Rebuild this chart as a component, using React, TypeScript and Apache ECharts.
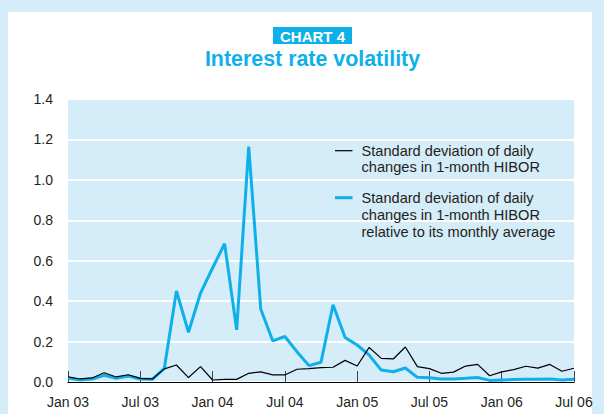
import React, { useEffect, useRef } from "react";
import * as echarts from "echarts";

const months = [
  "Jan 03","Feb 03","Mar 03","Apr 03","May 03","Jun 03","Jul 03","Aug 03","Sep 03","Oct 03","Nov 03","Dec 03",
  "Jan 04","Feb 04","Mar 04","Apr 04","May 04","Jun 04","Jul 04","Aug 04","Sep 04","Oct 04","Nov 04","Dec 04",
  "Jan 05","Feb 05","Mar 05","Apr 05","May 05","Jun 05","Jul 05","Aug 05","Sep 05","Oct 05","Nov 05","Dec 05",
  "Jan 06","Feb 06","Mar 06","Apr 06","May 06","Jun 06","Jul 06",
];

const stdDev = [
  0.025, 0.015, 0.02, 0.046, 0.025, 0.036, 0.018, 0.015, 0.065, 0.084, 0.022, 0.076,
  0.01, 0.013, 0.013, 0.043, 0.05, 0.035, 0.035, 0.063, 0.066, 0.071, 0.073, 0.107,
  0.079, 0.171, 0.117, 0.114, 0.173, 0.076, 0.066, 0.043, 0.049, 0.079, 0.087, 0.031,
  0.05, 0.061, 0.078, 0.069, 0.087, 0.053, 0.068,
];

const relStdDev = [
  0.02, 0.01, 0.015, 0.033, 0.018, 0.03, 0.015, 0.013, 0.068, 0.45, 0.246, 0.44,
  0.564, 0.684, 0.258, 1.165, 0.36, 0.203, 0.225, 0.15, 0.081, 0.098, 0.382, 0.22,
  0.183, 0.133, 0.059, 0.051, 0.069, 0.023, 0.021, 0.015, 0.015, 0.018, 0.022, 0.008,
  0.01, 0.012, 0.014, 0.013, 0.015, 0.01, 0.013,
];

const legendBlack = ["Standard deviation of daily", "changes in 1-month HIBOR"];
const legendBlue = ["Standard deviation of daily", "changes in 1-month HIBOR", "relative to its monthly average"];

const chartLabel = "CHART 4";
const chartTitle = "Interest rate volatility";

const CYAN = "#0fb0ea";
const PANEL_BG = "#d5ecf9";
const TEXT = "#231f20";
const FONT = "Liberation Sans, Arial, sans-serif";

export default function App() {
  const ref = useRef<HTMLDivElement>(null);

  useEffect(() => {
    if (!ref.current) return;
    const chart = echarts.init(ref.current, undefined, { renderer: "svg" });

    const legendText = (lines: string[], x: number, y0: number, lh: number) =>
      lines.map((t, k) => ({
        type: "text",
        x,
        y: y0 + k * lh,
        style: { text: t, fill: TEXT, font: `14.6px ${FONT}`, verticalAlign: "middle" },
        z: 10,
      }));

    chart.setOption({
      animation: false,
      backgroundColor: PANEL_BG,
      grid: {
        left: 68,
        right: 30,
        top: 99,
        bottom: 32,
        show: true,
        backgroundColor: PANEL_BG,
        borderWidth: 0,
      },
      graphic: [
        { type: "rect", shape: { x: 8, y: 12, width: 584, height: 410 }, style: { fill: "#ffffff" }, z: -10 },
        { type: "rect", shape: { x: 273, y: 27, width: 79, height: 17 }, style: { fill: CYAN }, z: 5 },
        {
          type: "text",
          x: 312.5,
          y: 36,
          style: { text: chartLabel, fill: "#ffffff", font: `bold 15px ${FONT}`, align: "center", verticalAlign: "middle" },
          z: 6,
        },
        {
          type: "text",
          x: 312.5,
          y: 59.3,
          style: { text: chartTitle, fill: CYAN, font: `bold 21.4px ${FONT}`, align: "center", verticalAlign: "middle" },
          z: 6,
        },
        { type: "line", shape: { x1: 335, y1: 150.7, x2: 352.5, y2: 150.7 }, style: { stroke: "#000", lineWidth: 1.2 }, z: 10 },
        { type: "line", shape: { x1: 335, y1: 197.7, x2: 352.5, y2: 197.7 }, style: { stroke: CYAN, lineWidth: 3 }, z: 10 },
        ...legendText(legendBlack, 361.5, 150.7, 16.7),
        ...legendText(legendBlue, 361.5, 198.3, 16.7),
      ],
      xAxis: {
        type: "category",
        data: months,
        boundaryGap: false,
        axisLine: { show: true, lineStyle: { color: "#000", width: 1 } },
        axisTick: { show: true, inside: true, length: 11, interval: 5, lineStyle: { color: "#444", width: 1 } },
        axisLabel: { interval: 5, color: TEXT, fontSize: 14, fontFamily: FONT, margin: 13 },
        splitLine: { show: false },
      },
      yAxis: {
        type: "value",
        min: 0,
        max: 1.4,
        interval: 0.2,
        axisLine: { show: false },
        axisTick: { show: false },
        axisLabel: { color: TEXT, fontSize: 14, fontFamily: FONT, margin: 15, formatter: (v: number) => v.toFixed(1) },
        splitLine: { show: true, lineStyle: { color: "#ffffff", width: 2 } },
      },
      series: [
        {
          name: "Relative",
          type: "line",
          data: relStdDev,
          symbol: "none",
          lineStyle: { color: CYAN, width: 3 },
          z: 3,
        },
        {
          name: "Std dev",
          type: "line",
          data: stdDev,
          symbol: "none",
          lineStyle: { color: "#000", width: 1.2 },
          z: 4,
        },
      ],
    });

    return () => chart.dispose();
  }, []);

  return (
    <div style={{ position: "absolute", left: 0, top: 0, width: 604, height: 414, background: PANEL_BG }}>
      <div ref={ref} style={{ width: 604, height: 414 }} />
    </div>
  );
}
